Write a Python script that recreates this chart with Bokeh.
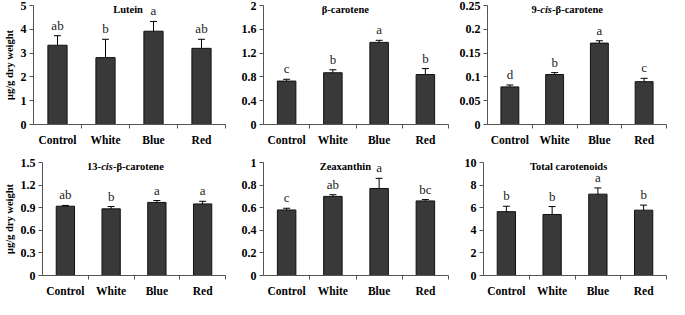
from bokeh.plotting import figure
from bokeh.models import (Range1d, FixedTicker, ColumnDataSource, Whisker, TeeHead,
                          LabelSet, Label, CustomJSTickFormatter)
from bokeh.layouts import column, row
from bokeh.embed import file_html
from bokeh.resources import INLINE

# ---------------- data ----------------
categories = ["Control", "White", "Blue", "Red"]

lutein = [3.33, 2.81, 3.92, 3.20]
lutein_err = [0.40, 0.77, 0.41, 0.38]
lutein_letters = ["ab", "b", "a", "ab"]
lutein_ticks = [0, 1, 2, 3, 4, 5]

beta = [0.73, 0.87, 1.38, 0.84]
beta_err = [0.03, 0.05, 0.035, 0.10]
beta_letters = ["c", "b", "a", "b"]
beta_ticks = [0, 0.4, 0.8, 1.2, 1.6, 2]

cis9 = [0.079, 0.105, 0.171, 0.090]
cis9_err = [0.004, 0.004, 0.005, 0.007]
cis9_letters = ["d", "b", "a", "c"]
cis9_ticks = [0, 0.05, 0.1, 0.15, 0.2, 0.25]

cis13 = [0.92, 0.885, 0.97, 0.95]
cis13_err = [0.01, 0.03, 0.025, 0.035]
cis13_letters = ["ab", "b", "a", "a"]
cis13_ticks = [0, 0.3, 0.6, 0.9, 1.2, 1.5]

zea = [0.58, 0.70, 0.77, 0.66]
zea_err = [0.015, 0.015, 0.09, 0.012]
zea_letters = ["c", "ab", "a", "bc"]
zea_ticks = [0, 0.2, 0.4, 0.6, 0.8, 1]

total = [5.65, 5.40, 7.20, 5.78]
total_err = [0.48, 0.70, 0.55, 0.45]
total_letters = ["b", "b", "a", "b"]
total_ticks = [0, 2, 4, 6, 8, 10]

YLABEL = "μg/g dry weight"
FONT = "Liberation Serif"
BAR = "#393939"
AX = "#555555"


def panel(title, vals, errs, letters, yticks, w, h, bl, br, bt, bb, tx, ylabel=None):
    n = len(categories)
    xs = [i + 0.5 for i in range(n)]
    src = ColumnDataSource(dict(
        x=xs, top=vals,
        upper=[v + e for v, e in zip(vals, errs)],
        lower=[v - e for v, e in zip(vals, errs)],
        letter=letters))
    p = figure(width=w, height=h, output_backend="svg", toolbar_location=None,
               x_range=Range1d(0, n), y_range=Range1d(yticks[0], yticks[-1]),
               min_border_left=bl, min_border_right=br, min_border_top=bt,
               min_border_bottom=bb)
    p.outline_line_color = None
    p.grid.visible = False
    p.background_fill_color = "white"
    p.border_fill_color = "white"

    p.vbar(x="x", top="top", width=0.4, bottom=0, source=src,
           fill_color=BAR, line_color="#111111", line_width=1)
    wh = Whisker(base="x", upper="upper", lower="lower", source=src,
                 line_color="black", line_width=1,
                 upper_head=TeeHead(size=7, line_color="black", line_width=1),
                 lower_head=TeeHead(size=7, line_color="black", line_width=1))
    p.add_layout(wh)
    p.add_layout(LabelSet(x="x", y="upper", text="letter", source=src,
                          y_offset=3, text_align="center", text_baseline="bottom",
                          text_font=FONT, text_font_size="13px", text_color="#222222"))

    xa = p.xaxis[0]
    xa.ticker = FixedTicker(ticks=xs, minor_ticks=list(range(1, n + 1)))
    xa.formatter = CustomJSTickFormatter(args=dict(cats=categories),
                                         code="return cats[Math.floor(tick)]")
    xa.major_tick_out = 0
    xa.major_tick_in = 0
    xa.minor_tick_out = 4
    xa.minor_tick_in = 0
    xa.minor_tick_line_color = AX
    xa.axis_line_color = AX
    xa.major_label_standoff = 5
    xa.major_label_text_font = FONT
    xa.major_label_text_font_style = "bold"
    xa.major_label_text_font_size = "11.5px"
    xa.major_label_text_color = "black"

    ya = p.yaxis[0]
    ya.ticker = FixedTicker(ticks=yticks)
    ya.formatter = CustomJSTickFormatter(code="return String(tick)")
    ya.major_tick_out = 4
    ya.major_tick_in = 0
    ya.minor_tick_line_color = None
    ya.axis_line_color = AX
    ya.major_tick_line_color = AX
    ya.major_label_standoff = 3
    ya.major_label_text_font = FONT
    ya.major_label_text_font_style = "bold"
    ya.major_label_text_font_size = "12px"
    ya.major_label_text_color = "black"
    if ylabel:
        ya.axis_label = ylabel
        ya.axis_label_text_font = FONT
        ya.axis_label_text_font_style = "bold"
        ya.axis_label_text_font_size = "10.5px"
        ya.axis_label_text_color = "black"
        ya.axis_label_standoff = 3

    for text, italic, align, off in title:
        p.add_layout(Label(x=tx, y=yticks[-1], x_offset=off, y_offset=-4,
                           text=text, text_align=align, text_baseline="middle",
                           text_font=FONT, text_font_size="10.5px",
                           text_font_style="bold italic" if italic else "bold",
                           text_color="black"))
    return p


p1 = panel([("Lutein", False, "center", 0)], lutein, lutein_err, lutein_letters,
           lutein_ticks, 232, 148, 31, 7, 5, 21, 1.97, YLABEL)
p2 = panel([("β-carotene", False, "center", 0)], beta, beta_err, beta_letters,
           beta_ticks, 223, 148, 31, 7, 5, 21, 1.77)
p3 = panel([("9-", False, "right", -6), ("cis", True, "center", 0),
            (" -β-carotene", False, "left", 6)], cis9, cis9_err, cis9_letters,
           cis9_ticks, 214, 148, 32, 3, 5, 21, 1.31)
p4 = panel([("13-", False, "right", -6), ("cis", True, "center", 0),
            (" -β-carotene", False, "left", 6)], cis13, cis13_err, cis13_letters,
           cis13_ticks, 232, 151, 42, 7, 14, 19, 1.41, YLABEL)
p5 = panel([("Zeaxanthin", False, "center", 0)], zea, zea_err, zea_letters,
           zea_ticks, 223, 151, 31, 7, 14, 19, 1.77)
p6 = panel([("Total carotenoids", False, "center", 0)], total, total_err, total_letters,
           total_ticks, 214, 151, 28, 3, 14, 19, 1.86)

layout = column(row(p1, p2, p3, spacing=0), row(p4, p5, p6, spacing=0), spacing=0)

open("out.html", "w").write(file_html(layout, INLINE))
